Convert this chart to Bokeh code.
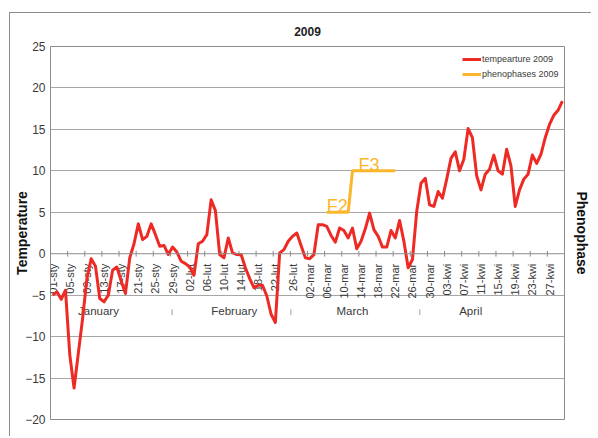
import math
from bokeh.plotting import figure
from bokeh.models import Range1d, Legend, LegendItem, FixedTicker, Span, LinearAxis
from bokeh.core.properties import value
from bokeh.embed import file_html
from bokeh.resources import INLINE

# ---------------- data ----------------
months = ["January", "February", "March", "April"]
month_abbr = ["sty", "lut", "mar", "kwi"]
month_days = [31, 28, 31, 30]

day_labels = [f"{d:02d}-{ab}" for ab, n in zip(month_abbr, month_days) for d in range(1, n + 1)]

temperature_2009 = [
    -5.0, -4.6, -5.5, -4.4, -12.2, -16.2, -12.0, -7.8, -3.0, -0.6,
    -1.5, -5.4, -5.8, -5.0, -2.0, -1.6, -3.3, -4.8, -0.5, 1.2,
    3.6, 1.7, 2.1, 3.6, 2.3, 0.9, 1.0, -0.1, 0.8, 0.2,
    -0.9, -1.2, -1.6, -2.6, 1.2, 1.5, 2.3, 6.5, 5.2, -0.1,
    -0.5, 1.9, 0.1, -0.1, -0.1, -1.7, -3.0, -4.1, -3.8, -3.8,
    -5.1, -7.3, -8.3, 0.1, 0.5, 1.5, 2.1, 2.5, 1.0, -0.5,
    -0.6, -0.1, 3.5, 3.5, 3.3, 2.2, 1.4, 3.1, 2.8, 1.9,
    3.1, 0.6, 1.5, 3.0, 4.9, 2.9, 2.1, 0.8, 0.8, 2.8,
    1.9, 4.0, 1.5, -1.7, -0.7, 5.1, 8.5, 9.1, 5.9, 5.7,
    7.5, 6.7, 9.0, 11.5, 12.3, 10.0, 11.4, 15.1, 14.0, 9.4,
    7.7, 9.6, 10.2, 11.9, 10.0, 9.6, 12.6, 10.6, 5.7, 7.7,
    9.0, 9.6, 11.9, 10.9, 12.0, 14.0, 15.6, 16.7, 17.3, 18.4,
]

phase_days = ["06-mar", "07-mar", "08-mar", "09-mar", "10-mar", "11-mar",
              "12-mar", "13-mar", "14-mar", "15-mar", "16-mar", "17-mar",
              "18-mar", "19-mar", "20-mar", "21-mar", "22-mar"]
phase_values = [2, 2, 2, 2, 2, 2, 3, 3, 3, 3, 3, 3, 3, 3, 3, 3, 3]
phase_names = ["F2", "F3"]

y_ticks = [-20, -15, -10, -5, 0, 5, 10, 15, 20, 25]
tick_every = 4

# ---------------- layout / style ----------------
RED = "#EE2A24"
GOLD = "#FBB62B"
GRID = "#A6A6A6"
AXIS = "#8C8C8C"
TXT = "#3A3A3A"
NARROW = "'Liberation Sans Narrow', 'Liberation Sans', Arial, sans-serif"
SANS = "'Liberation Sans', Arial, sans-serif"

n_days = len(day_labels)
xs = [i + 0.5 for i in range(n_days)]
pos = {lab: i + 0.5 for i, lab in enumerate(day_labels)}

p = figure(width=582, height=424,
           x_range=Range1d(0, n_days), y_range=Range1d(y_ticks[0], y_ticks[-1]),
           output_backend="svg", toolbar_location=None,
           min_border_left=40, min_border_right=26, min_border_top=32, min_border_bottom=18)
p.styles = {"position": "relative", "left": "10px", "top": "13px",
            "box-shadow": "-1px -1px 0 0 #8C8C8C"}
p.extra_y_ranges = {"pheno": Range1d((y_ticks[0] + 5) / 5, (y_ticks[-1] + 5) / 5)}

p.background_fill_color = "white"
p.border_fill_color = "white"
p.outline_line_color = AXIS
p.outline_line_width = 1

# title
p.title.text = "2009"
p.title.align = "center"
p.title.text_font = SANS
p.title.text_font_size = "12px"
p.title.text_font_style = "bold"
p.title.text_color = "#222222"
p.title.standoff = 22

# y axis
p.xaxis.visible = False
p.xgrid.visible = False
yax = p.yaxis[0]
yax.ticker = FixedTicker(ticks=y_ticks)
yax.major_tick_in = 0
yax.major_tick_out = 0
yax.minor_tick_line_color = None
yax.axis_line_color = None
yax.major_label_standoff = 5
yax.major_label_text_font = NARROW
yax.major_label_text_font_size = "12px"
yax.major_label_text_color = TXT
yax.axis_label = "Temperature"
yax.axis_label_text_font = SANS
yax.axis_label_text_font_size = "14px"
yax.axis_label_text_font_style = "bold"
yax.axis_label_text_color = "#111111"
yax.axis_label_standoff = -8

# right (phenophase) axis: title only
rax = LinearAxis(y_range_name="pheno", ticker=FixedTicker(ticks=[]),
                 axis_label="Phenophase", axis_label_standoff=9,
                 axis_label_text_font=SANS, axis_label_text_font_size="14px",
                 axis_label_text_font_style="bold", axis_label_text_color="#111111",
                 axis_line_color=None, major_tick_line_color=None, minor_tick_line_color=None)
try:
    rax.axis_label_orientation = "vertical"
except Exception:
    pass
p.add_layout(rax, "right")

p.ygrid.ticker = FixedTicker(ticks=[t for t in y_ticks if t not in (0, y_ticks[0], y_ticks[-1])])
p.ygrid.grid_line_color = GRID
p.ygrid.grid_line_width = 1

# category axis drawn at y = 0
p.add_layout(Span(location=0, dimension="width", line_color=AXIS, line_width=1))
bounds = list(range(0, n_days + 1, tick_every))
p.segment(x0=bounds, y0=[-0.35] * len(bounds), x1=bounds, y1=[0.35] * len(bounds),
          line_color=AXIS, line_width=1)
tick_idx = list(range(0, n_days, tick_every))
p.text(x=[xs[i] for i in tick_idx], y=[0] * len(tick_idx), text=[day_labels[i] for i in tick_idx],
       angle=math.pi / 2, text_align="right", text_baseline="middle", y_offset=10,
       text_font=value(NARROW), text_font_size="11px", text_color=TXT)

# month labels (second level)
month_label_x = [11.2, 42.9, 70.5, 98.1]
month_sep_x = [28.4, 56.1, 86.2]
p.text(x=month_label_x, y=[-6.9] * 4, text=months, text_align="center", text_baseline="middle",
       text_font=value(SANS), text_font_size="11.5px", text_color=TXT)
p.segment(x0=month_sep_x, y0=[-6.7] * 3, x1=month_sep_x, y1=[-7.4] * 3,
          line_color="#BFBFBF", line_width=1.5)

# series
r_t = p.line(xs, temperature_2009, line_color=RED, line_width=3, line_join="round")
ph_x = [pos[d] for d in phase_days]
r_p = p.line(ph_x, phase_values, y_range_name="pheno", line_color=GOLD, line_width=3)

# phase labels
first_idx = [phase_values.index(v) for v in sorted(set(phase_values))]
lab_x = [64.5, 71.9]
p.text(x=lab_x, y=[phase_values[i] for i in first_idx], y_range_name="pheno", text=phase_names,
       text_align="left", text_baseline="alphabetic", y_offset=-6,
       text_font=value(SANS), text_font_size="18px", text_color=GOLD)

legend = Legend(items=[LegendItem(label="tempearture 2009", renderers=[r_t]),
                       LegendItem(label="phenophases 2009", renderers=[r_p])],
                location=(412, 339), border_line_color=None, background_fill_alpha=0,
                label_text_font=NARROW, label_text_font_size="9px", label_text_color=TXT,
                glyph_width=19, glyph_height=12, label_standoff=1, spacing=3,
                padding=2, margin=0)
p.add_layout(legend)

open("out.html", "w").write(file_html(p, INLINE))
